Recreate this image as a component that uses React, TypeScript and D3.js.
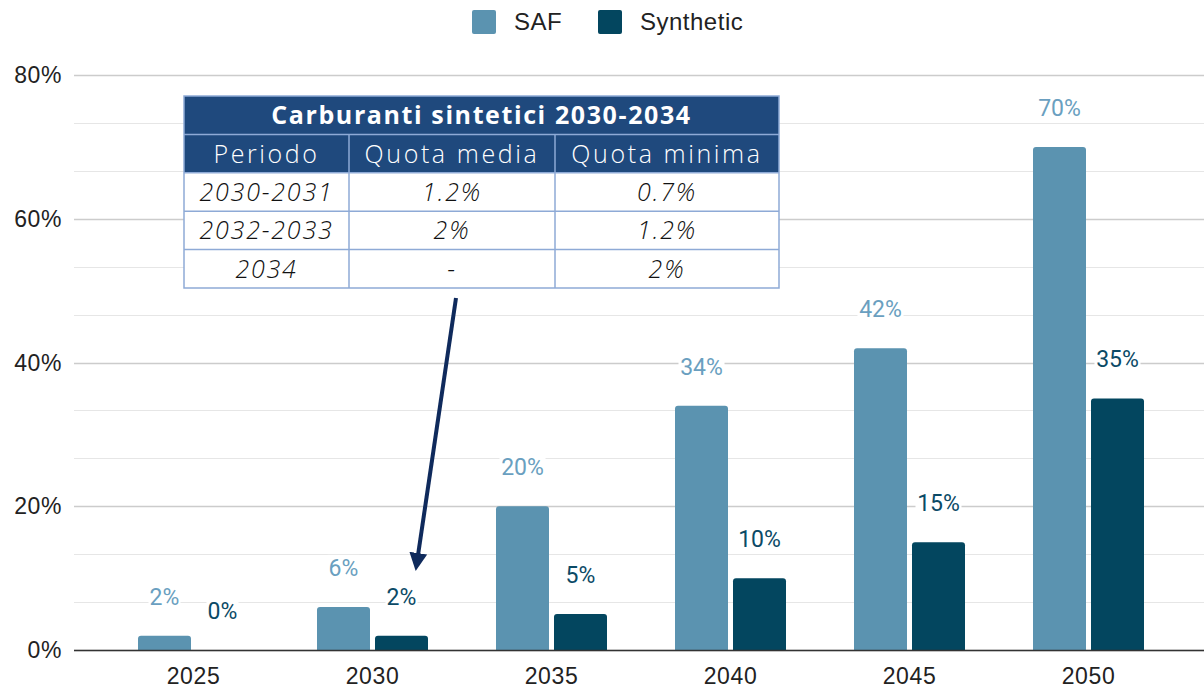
import React from 'react';
import * as d3 from 'd3';

// chart data
const years = ['2025', '2030', '2035', '2040', '2045', '2050'];
const safValues = [2, 6, 20, 34, 42, 70];
const syntheticValues = [0, 2, 5, 10, 15, 35];
const seriesNames = ['SAF', 'Synthetic'];
const yTicks = [0, 20, 40, 60, 80];

// inset table data
const tableTitle = 'Carburanti sintetici 2030-2034';
const tableHeaders = ['Periodo', 'Quota media', 'Quota minima'];
const tablePeriods = ['2030-2031', '2032-2033', '2034'];
const tableMedia = ['1.2%', '2%', '-'];
const tableMinima = ['0.7%', '1.2%', '2%'];

const W = 1204;
const H = 688;
const colors = ['#5b93b0', '#03465f'];
const labelColors = ['#6a9fc0', '#0b4a66'];
const axisFont = '"Liberation Sans", Arial, sans-serif';
const labelFont = 'Roboto, "Noto Sans", sans-serif';
const tableFont = '"Open Sans", "Noto Sans", sans-serif';

// bar with rounded top corners
function barPath(x: number, y: number, w: number, h: number, r: number) {
  if (h <= 0) return '';
  const rr = Math.min(r, h, w / 2);
  return `M${x},${y + h} V${y + rr} Q${x},${y} ${x + rr},${y} H${x + w - rr} Q${x + w},${y} ${x + w},${y + rr} V${y + h} Z`;
}

export default function App() {
  const plotLeft = 74;
  const x = d3.scaleBand().domain(years).range([104, 1178]).padding(0);
  const y = d3.scaleLinear().domain([0, 80]).range([650, 75]);
  const gridVals = d3.range(0, 13).map((i) => (i * 80) / 12);
  const barW = 53;
  const gap = 5;

  const series = [safValues, syntheticValues];

  // table layout
  const tX = 184;
  const tY = 96;
  const colEdges = [184, 349, 555, 779];
  const rowH = 38.4;
  const tW = colEdges[3] - colEdges[0];
  const rows = tablePeriods.map((p, i) => [p, tableMedia[i], tableMinima[i]]);

  return (
    <svg
      width={W}
      height={H}
      style={{ position: 'absolute', left: 0, top: 0, display: 'block', background: '#fff' }}
    >
      <defs>
        <marker id="arrowHead" viewBox="0 0 10 10" refX="5" refY="5" markerWidth="4.5" markerHeight="4.5" orient="auto">
          <path d="M0,0 L10,5 L0,10 Z" fill="#0f2a5c" />
        </marker>
      </defs>

      {/* legend */}
      <g>
        {seriesNames.map((name, i) => {
          const lx = [472, 598][i];
          return (
            <g key={name}>
              <rect x={lx} y={10} width={24} height={24} rx={2} fill={colors[i]} />
              <text x={lx + 42} y={30} fontFamily={axisFont} fontSize={24} fill="#222" letterSpacing={0.5}>
                {name}
              </text>
            </g>
          );
        })}
      </g>

      {/* grid */}
      <g>
        {gridVals.map((v, i) => (
          <line
            key={i}
            x1={plotLeft}
            x2={W}
            y1={Math.round(y(v)) + 0.5}
            y2={Math.round(y(v)) + 0.5}
            stroke={i % 3 === 0 ? '#cccccc' : '#e6e6e6'}
            strokeWidth={i % 3 === 0 ? 1.5 : 1.2}
          />
        ))}
      </g>

      {/* y tick labels */}
      <g>
        {yTicks.map((t) => (
          <text
            key={t}
            x={62}
            y={y(t) + 8}
            textAnchor="end"
            fontFamily={axisFont}
            fontSize={23}
            letterSpacing={0.6}
            fill="#222"
          >
            {t}%
          </text>
        ))}
      </g>

      {/* bars */}
      <g>
        {years.map((yr) => {
          const c = (x(yr) as number) + x.bandwidth() / 2;
          return series.map((vals, si) => {
            const v = vals[years.indexOf(yr)];
            const bx = si === 0 ? c - gap / 2 - barW : c + gap / 2;
            return (
              <path
                key={yr + si}
                d={barPath(bx, y(v), barW, y(0) - y(v), 3)}
                fill={colors[si]}
              />
            );
          });
        })}
      </g>

      {/* zero axis */}
      <line x1={plotLeft} x2={W} y1={650.5} y2={650.5} stroke="#333" strokeWidth={1.5} />

      {/* x labels */}
      <g>
        {years.map((yr) => (
          <text
            key={yr}
            x={(x(yr) as number) + x.bandwidth() / 2}
            y={684}
            textAnchor="middle"
            fontFamily={axisFont}
            fontSize={23}
            letterSpacing={0.6}
            fill="#222"
          >
            {yr}
          </text>
        ))}
      </g>

      {/* value labels */}
      <g>
        {years.map((yr, yi) => {
          const c = (x(yr) as number) + x.bandwidth() / 2;
          return series.map((vals, si) => {
            const v = vals[yi];
            const cx = si === 0 ? c - gap / 2 - barW / 2 : c + gap / 2 + barW / 2;
            const cy = y(v) - 39;
            const txt = `${v}%`;
            const tw = txt.length * 14;
            return (
              <g key={yr + 'l' + si}>
                <rect x={cx - tw / 2 - 2} y={cy - 13} width={tw + 4} height={26} fill="#fff" />
                <text
                  x={cx}
                  y={cy + 8}
                  textAnchor="middle"
                  fontFamily={labelFont}
                  fontSize={23}
                  fontWeight={400}
                  fill={labelColors[si]}
                >
                  {txt}
                </text>
              </g>
            );
          });
        })}
      </g>

      {/* arrow */}
      <line
        x1={456}
        y1={298}
        x2={417}
        y2={562}
        stroke="#0f2a5c"
        strokeWidth={4}
        markerEnd="url(#arrowHead)"
      />

      {/* inset table */}
      <g>
        <rect x={tX} y={tY} width={tW} height={rowH * 2} fill="#1f497d" />
        <rect x={tX} y={tY + rowH * 2} width={tW} height={rowH * 3} fill="#fff" />
        <text
          x={tX + tW / 2}
          y={tY + rowH / 2 + 9}
          textAnchor="middle"
          fontFamily={tableFont}
          fontWeight={700}
          fontSize={25}
          letterSpacing={1.6}
          fill="#fff"
        >
          {tableTitle}
        </text>
        {tableHeaders.map((h, i) => (
          <text
            key={h}
            x={(colEdges[i] + colEdges[i + 1]) / 2}
            y={tY + rowH * 1.5 + 9}
            textAnchor="middle"
            fontFamily={tableFont}
            fontWeight={300}
            fontSize={25}
            letterSpacing={2.6}
            fill="#fff"
          >
            {h}
          </text>
        ))}
        {rows.map((r, ri) =>
          r.map((cell, ci) => (
            <text
              key={ri + '-' + ci}
              x={(colEdges[ci] + colEdges[ci + 1]) / 2}
              y={tY + rowH * (2.5 + ri) + 9}
              textAnchor="middle"
              fontFamily={tableFont}
              fontStyle="italic"
              fontWeight={300}
              fontSize={25}
              letterSpacing={1.8}
              fill="#111"
            >
              {cell}
            </text>
          ))
        )}
        {/* borders */}
        {[1, 2, 3, 4].map((k) => (
          <line
            key={'h' + k}
            x1={tX}
            x2={tX + tW}
            y1={tY + rowH * k}
            y2={tY + rowH * k}
            stroke="#8eaad6"
            strokeWidth={1.5}
          />
        ))}
        {[1, 2].map((k) => (
          <line
            key={'v' + k}
            x1={colEdges[k]}
            x2={colEdges[k]}
            y1={tY + rowH}
            y2={tY + rowH * 5}
            stroke="#8eaad6"
            strokeWidth={1.5}
          />
        ))}
        <rect x={tX} y={tY} width={tW} height={rowH * 5} fill="none" stroke="#8eaad6" strokeWidth={1.5} />
      </g>
    </svg>
  );
}
